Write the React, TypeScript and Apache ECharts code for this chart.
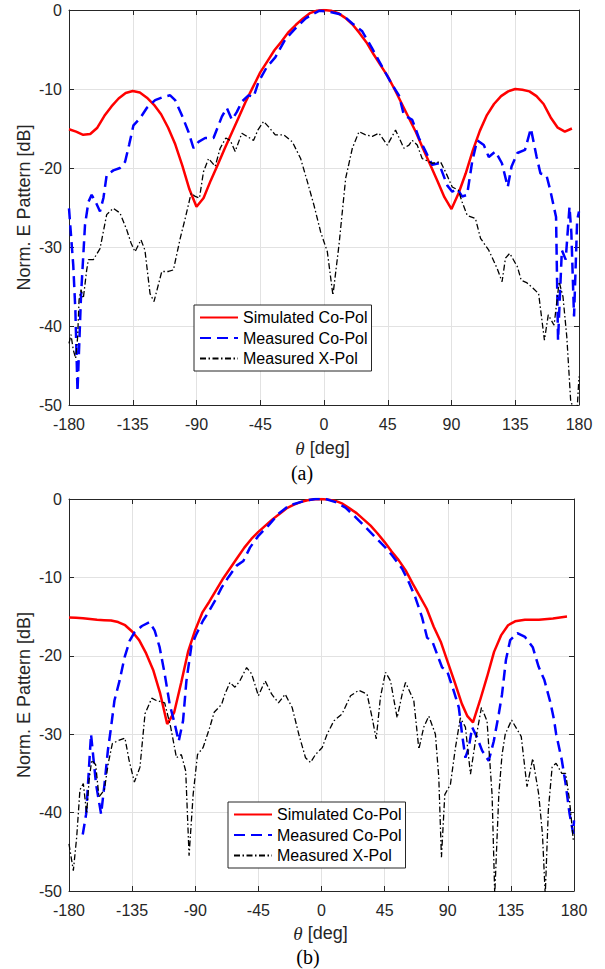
import React, { useEffect, useRef } from "react";
import * as echarts from "echarts";

// ---------- tick labels / categories ----------
const thetaTicks = [-180, -135, -90, -45, 0, 45, 90, 135, 180];
const dbTicks = [-50, -40, -30, -20, -10, 0];
const seriesNames = ["Simulated Co-Pol", "Measured Co-Pol", "Measured X-Pol"];

// ---------- (a) ----------
const simCoPolA: [number, number][] = [
  [-180, -15.1], [-175, -15.4], [-170, -15.8], [-165, -15.7], [-160, -14.9], [-155, -13.4], [-150, -12.2],
  [-145, -11.2], [-140, -10.5], [-135, -10.25], [-130, -10.45], [-125, -11.1], [-120, -12.0], [-115, -13.2],
  [-110, -14.9], [-105, -17.0], [-100, -19.7], [-95, -22.7], [-90, -24.9], [-85, -23.8], [-80, -21.6],
  [-75, -19.6], [-70, -17.5], [-65, -15.5], [-60, -13.5], [-55, -11.5], [-50, -9.7], [-45, -7.9],
  [-40, -6.5], [-35, -5.1], [-30, -4.0], [-25, -2.8], [-20, -1.9], [-15, -1.1], [-10, -0.4], [-5, -0.1],
  [0, 0], [5, -0.1], [10, -0.4], [15, -1.0], [20, -1.8], [25, -2.9], [30, -4.1], [35, -5.6], [40, -7.0],
  [45, -8.4], [50, -10.1], [55, -11.9], [60, -13.7], [65, -15.5], [70, -17.6], [75, -19.6], [80, -21.6],
  [85, -23.7], [90, -25.2], [95, -23.2], [100, -20.7], [105, -17.8], [110, -15.3], [115, -13.3],
  [120, -11.9], [125, -10.9], [130, -10.3], [135, -10.0], [140, -10.1], [145, -10.3], [150, -10.9],
  [155, -11.9], [160, -13.6], [165, -14.9], [170, -15.4], [175, -15.0],
];

const measCoPolA: [number, number][] = [
  [-180, -25.1], [-177, -32.3], [-175.5, -38], [-174, -48.3], [-171.5, -36.1], [-168.7, -27.2],
  [-166.3, -24.3], [-164, -23.4], [-161.2, -24.3], [-158.1, -25.5], [-155.7, -23.8], [-153.4, -20.9],
  [-148.7, -20.3], [-144, -20.0], [-140.4, -19.2], [-137.6, -17.1], [-134.5, -14.6], [-129.8, -13.7],
  [-125.1, -12.4], [-119.2, -11.4], [-113.3, -11.0], [-108.6, -10.8], [-105.1, -11.4], [-100.4, -13.3],
  [-95.7, -15.4], [-92.1, -17.5], [-88.6, -16.7], [-83.9, -16.2], [-78, -16.2], [-74.5, -14.6],
  [-72.1, -13.5], [-68.6, -12.4], [-65, -13.9], [-61.5, -12.9], [-58, -11.6], [-53.3, -10.8],
  [-49.7, -11.0], [-46.2, -9.1], [-40.3, -7.2], [-34.4, -6.0], [-27.3, -3.7], [-20, -2.3],
  [-12.9, -1.05], [-3.5, -0.1], [3.5, -0.2], [12.9, -0.6], [20, -1.7], [27, -2.7], [34.1, -4.9],
  [41.1, -7.2], [48.2, -9.5], [52.9, -10.8], [56.4, -13.3], [62.3, -13.9], [67, -16.2], [71.7, -17.9],
  [76.4, -19.6], [81.1, -19.4], [87, -22.2], [90.5, -23.0], [94, -22.6], [97.5, -23.6], [101, -23.4],
  [104.6, -19.2], [108.1, -16.5], [112.8, -17.1], [116.3, -18.6], [121, -17.9], [125.6, -19.4],
  [129.7, -22.4], [132.4, -19.8], [136.5, -18.1], [141.9, -17.7], [146, -15.0], [150.1, -18.6],
  [152.8, -20.7], [157, -20.9], [159.7, -22.8], [163.8, -26.2], [165.2, -41.8], [167.9, -30.4],
  [170.6, -31.6], [173.3, -24.9], [174.6, -28.2], [176.5, -38.8], [178.7, -26.6], [180, -25.5],
];

const measXPolA: [number, number][] = [
  [-180, -42.2], [-178.6, -41.1], [-177, -43.0], [-175.3, -44.1], [-173.9, -41.4], [-172.9, -36.7],
  [-171.5, -35.4], [-169.9, -36.5], [-167.5, -32.9], [-166.3, -31.6], [-162.8, -31.6], [-158.1, -30.2],
  [-153.4, -25.9], [-148.7, -25.1], [-144, -25.7], [-139.3, -27.8], [-136.2, -29.5], [-133.4, -30.6],
  [-129.2, -29.1], [-126.4, -30.4], [-122.8, -35.9], [-120, -36.9], [-114.5, -33.1], [-109.8, -33.1],
  [-106.3, -32.9], [-101.5, -28.9], [-98, -26.4], [-93.8, -23.2], [-90.9, -23.6], [-87.9, -23.8],
  [-85.1, -20.5], [-81.5, -18.8], [-76.8, -19.8], [-73.3, -17.5], [-69.3, -16.2], [-66.2, -16.5],
  [-62.7, -17.9], [-58, -15.6], [-54.4, -16.0], [-49.7, -16.5], [-46.7, -15.2], [-42.6, -14.1],
  [-39.1, -14.8], [-34.4, -15.8], [-28.5, -15.8], [-22.3, -16.7], [-16.5, -18.8], [-11.8, -21.7],
  [-7.1, -24.7], [-2.35, -28.1], [2.35, -30.6], [6.3, -36.1], [10.6, -29.7], [15.3, -21.3], [20, -17.5],
  [24.7, -15.4], [29.4, -15.8], [34.1, -16.0], [38.8, -15.6], [44.7, -17.1], [50.5, -15.2], [56.4, -17.5],
  [60, -17.1], [62.3, -16.5], [65.8, -17.1], [69.3, -18.8], [76.4, -19.4], [82.2, -19.2], [85.8, -20.5],
  [90.5, -22.4], [94.8, -22.8], [97.5, -24.3], [101.1, -26.0], [106.9, -26.4], [110.5, -28.9],
  [116.3, -30.4], [122.2, -32.7], [125.7, -34.4], [128.1, -31.4], [131.1, -30.8], [136.5, -32.5],
  [139.2, -34.2], [143, -34.5], [147.4, -35.2], [151.5, -35.9], [155.6, -41.8], [158.3, -38.6],
  [162.4, -39.9], [166, -34.4], [168.7, -36.3], [171.4, -41.4], [174.1, -49.4], [176, -50.5],
  [178.7, -50.5], [180, -46.4],
];

// ---------- (b) ----------
const simCoPolB: [number, number][] = [
  [-180, -15.1], [-175, -15.15], [-170, -15.2], [-165, -15.3], [-160, -15.4], [-155, -15.45], [-150, -15.5],
  [-145, -15.7], [-140, -16.1], [-135, -16.9], [-130, -18.0], [-125, -19.7], [-120, -21.8], [-115, -24.8],
  [-110, -28.7], [-105, -27.2], [-100, -23.4], [-95, -19.4], [-90, -16.7], [-85, -14.5], [-80, -13.1],
  [-75, -11.6], [-70, -10.1], [-65, -8.8], [-60, -7.5], [-55, -6.2], [-50, -5.1], [-45, -4.2], [-40, -3.4],
  [-35, -2.6], [-30, -1.9], [-25, -1.2], [-20, -0.75], [-15, -0.4], [-10, -0.15], [-5, -0.03], [0, 0],
  [5, -0.08], [10, -0.25], [15, -0.6], [20, -1.2], [25, -1.8], [30, -2.6], [35, -3.4], [40, -4.4],
  [45, -5.5], [50, -6.7], [55, -7.8], [60, -9.1], [65, -10.8], [70, -12.4], [75, -14.0], [80, -16.3],
  [85, -18.2], [90, -20.8], [95, -23.4], [100, -26.1], [104, -27.7], [108, -28.5], [113, -25.7],
  [118, -22.7], [123, -19.5], [128, -17.4], [133, -16.1], [138, -15.6], [145, -15.4], [155, -15.4],
  [165, -15.25], [175, -15.0],
];

const measCoPolB: [number, number][] = [
  [-170.2, -42.8], [-167.8, -40.2], [-166.6, -36.8], [-164.3, -30.0], [-162.4, -33.4], [-160.7, -36.4],
  [-157.1, -40.2], [-154.7, -36.4], [-152.3, -32.1], [-150, -29.1], [-147.6, -25.7], [-144, -23.2],
  [-140.4, -20.2], [-136.8, -18.1], [-133.3, -17.0], [-128, -16.2], [-122.5, -15.7], [-118.9, -16.8],
  [-115.4, -18.9], [-111.8, -22.3], [-108.2, -26.2], [-104.6, -28.7], [-101.8, -30.9], [-98.7, -28.3],
  [-96.3, -23.2], [-92.7, -18.7], [-89.1, -17.2], [-84.4, -15.5], [-80.8, -14.5], [-76, -13.0],
  [-71.2, -11.3], [-66.5, -10.0], [-60.5, -8.5], [-55.7, -7.9], [-51, -6.2], [-45, -4.7], [-37.9, -3.4],
  [-30.7, -1.9], [-23.3, -0.85], [-11.4, -0.2], [-4.3, 0], [2.9, 0], [10, -0.4], [17.1, -1.1],
  [24.2, -2.3], [31.4, -3.6], [38.5, -4.9], [45.6, -6.2], [50.4, -7.2], [57.5, -8.9], [62.2, -10.6],
  [67, -12.6], [71.7, -15.1], [75.3, -17.7], [78.9, -18.1], [82.4, -19.8], [86, -21.5], [89.5, -21.9],
  [94.3, -24.5], [97.9, -26.6], [100.2, -30.0], [102.6, -33.0], [105, -31.7], [107.4, -29.1],
  [110.9, -30.4], [114.5, -32.1], [119.2, -33.4], [122.8, -30.9], [126.4, -27.4], [128.7, -24.9],
  [131.5, -20.5], [134.5, -18.0], [139.6, -17.1], [145.1, -17.6], [150.6, -18.9], [154.8, -21.4],
  [158.9, -23.1], [163.1, -25.9], [165.8, -28.2], [167.2, -29.9], [171.3, -33.3], [174, -36.3],
  [176.8, -40.1], [179.5, -42.7], [180, -41],
];

const measXPolB: [number, number][] = [
  [-180, -44], [-176.9, -47.4], [-174.5, -43.1], [-172.2, -37.1], [-169.8, -36.3], [-167.4, -40.1],
  [-165.7, -35.9], [-163.8, -33.3], [-161, -33.9], [-158.6, -38.0], [-154.8, -37.1], [-152, -33.7],
  [-149.1, -31.2], [-144.8, -30.8], [-140.1, -30.5], [-137.2, -33.3], [-133.4, -36.1], [-129.4, -34.2],
  [-125.8, -27.4], [-121, -25.4], [-117.8, -25.7], [-111.8, -26.0], [-107.5, -29.1], [-103.4, -33.0],
  [-99.9, -32.6], [-96.8, -34.7], [-94.4, -45.5], [-91.5, -37.7], [-88.4, -32.6], [-84.4, -31.7],
  [-79.6, -29.1], [-76.5, -27.2], [-71.2, -26.2], [-68.9, -24.9], [-65.3, -23.4], [-61.7, -24.0],
  [-58.2, -23.2], [-53.4, -21.5], [-49.8, -22.3], [-45, -25.1], [-40.2, -23.2], [-35.5, -24.9],
  [-30.7, -26.0], [-25.9, -24.9], [-20.9, -26.6], [-16.2, -30.0], [-11.4, -33.0], [-7.8, -33.6],
  [-4.3, -32.6], [0.5, -31.7], [4, -30.0], [8.8, -28.3], [14.7, -27.4], [20.7, -25.1], [26.6, -24.4],
  [32.5, -24.9], [36.1, -27.9], [39, -30.6], [42, -25.3], [45.6, -22.1], [49.2, -23.2], [53.9, -27.9],
  [57.5, -24.9], [59.9, -23.4], [65.8, -25.7], [69.4, -31.9], [72.9, -29.1], [76.5, -27.7], [81.2, -30.0],
  [83.6, -35.5], [85.5, -45.7], [87.9, -37.7], [91.9, -36.4], [95.5, -31.7], [99, -27.9], [102.6, -29.1],
  [106.2, -35.1], [109.7, -30.9], [114, -26.6], [118, -28.3], [121.6, -37.7], [123.5, -50.5],
  [126.4, -37.7], [128.7, -32.6], [131, -30.0], [135.5, -28.2], [142.4, -30.3], [146.5, -36.7],
  [150.6, -33.1], [154.8, -37.6], [157.5, -42.7], [159.5, -50.5], [161.7, -39.7], [164.4, -34.2],
  [167.2, -33.7], [171.3, -35.0], [174, -35], [176.8, -38.4], [179.5, -43.5],
];

const AX = "#262626";
const SANS = "Liberation Sans";

function xAx(gridIndex: number, position: string, labels: boolean) {
  return {
    type: "value", gridIndex, position,
    min: thetaTicks[0], max: thetaTicks[thetaTicks.length - 1], interval: 45,
    axisLine: { show: true, onZero: false, lineStyle: { color: AX, width: 1 } },
    axisTick: { show: true, inside: true, length: 5, lineStyle: { color: AX, width: 1 } },
    axisLabel: { show: labels, margin: 11, fontSize: 16, fontFamily: SANS, color: AX },
    splitLine: { show: labels, lineStyle: { color: "#e2e2e2", width: 1 } },
  };
}
function yAx(gridIndex: number, position: string, labels: boolean) {
  return {
    type: "value", gridIndex, position,
    min: dbTicks[0], max: dbTicks[dbTicks.length - 1], interval: 10,
    axisLine: { show: true, onZero: false, lineStyle: { color: AX, width: 1 } },
    axisTick: { show: true, inside: true, length: 5, lineStyle: { color: AX, width: 1 } },
    axisLabel: { show: labels, margin: 7, fontSize: 16, fontFamily: SANS, color: AX },
    splitLine: { show: labels, lineStyle: { color: "#e2e2e2", width: 1 } },
  };
}

const styles = [
  { color: "#ff0000", width: 2.5, type: "solid" as any },
  { color: "#0000ff", width: 2.5, type: [11, 6] as any },
  { color: "#000000", width: 1.3, type: [6, 2.5, 1.5, 2.5] as any },
];

function mkSeries(name: string, data: [number, number][], idx: number, axis: number) {
  const s = styles[idx];
  return {
    type: "line", name, data, xAxisIndex: axis * 2, yAxisIndex: axis * 2,
    symbol: "none", showSymbol: false, clip: true,
    lineStyle: { color: s.color, width: s.width, type: s.type },
    itemStyle: { color: s.color },
    z: 3 + idx,
  };
}

function mkLegend(left: number, top: number) {
  return {
    left, top, orient: "vertical", data: seriesNames,
    itemWidth: 38, itemHeight: 14, itemGap: 4.5, padding: [4.5, 4, 4.5, 5],
    borderColor: AX, borderWidth: 1, backgroundColor: "#ffffff",
    itemStyle: { opacity: 0, borderWidth: 0 },
    textStyle: { fontSize: 16, fontFamily: SANS, color: "#000" },
    selectedMode: false,
  };
}

function txt(x: number, y: number, text: string, extra: any = {}, rotation = 0) {
  return {
    type: "text", x, y, rotation,
    style: {
      text, textAlign: "center", textVerticalAlign: "middle",
      fontSize: 18, fontFamily: SANS, fill: AX, ...extra,
    },
  };
}

export default function App() {
  const ref = useRef<HTMLDivElement>(null);
  useEffect(() => {
    if (!ref.current) return;
    const chart = echarts.init(ref.current, null, { renderer: "svg" });
    const thetaRich = { t: { fontFamily: "Liberation Serif", fontStyle: "italic", fontSize: 19, fill: AX } };
    chart.setOption({
      animation: false,
      backgroundColor: "#ffffff",
      grid: [
        { left: 69, top: 10, width: 510, height: 395 },
        { left: 69, top: 499, width: 505, height: 392 },
      ],
      xAxis: [xAx(0, "bottom", true), xAx(0, "top", false), xAx(1, "bottom", true), xAx(1, "top", false)],
      yAxis: [yAx(0, "left", true), yAx(0, "right", false), yAx(1, "left", true), yAx(1, "right", false)],
      legend: [mkLegend(194, 305), mkLegend(228, 802)],
      series: [
        mkSeries(seriesNames[0], simCoPolA, 0, 0),
        mkSeries(seriesNames[1], measCoPolA, 1, 0),
        mkSeries(seriesNames[2], measXPolA, 2, 0),
        mkSeries(seriesNames[0], simCoPolB, 0, 1),
        mkSeries(seriesNames[1], measCoPolB, 1, 1),
        mkSeries(seriesNames[2], measXPolB, 2, 1),
      ],
      graphic: [
        txt(23.5, 207.5, "Norm. E Pattern [dB]", {}, Math.PI / 2),
        txt(23.5, 695, "Norm. E Pattern [dB]", {}, Math.PI / 2),
        txt(322.5, 448, "{t|θ} [deg]", { rich: thetaRich }),
        txt(320.5, 933, "{t|θ} [deg]", { rich: thetaRich }),
        txt(302, 473, "(a)", { fontFamily: "Liberation Serif", fontSize: 20, fill: "#000" }),
        txt(308, 957, "(b)", { fontFamily: "Liberation Serif", fontSize: 20, fill: "#000" }),
      ],
    });
    return () => chart.dispose();
  }, []);
  return (
    <div
      ref={ref}
      style={{ position: "absolute", left: 0, top: 0, width: 605, height: 969, background: "#fff" }}
    />
  );
}
